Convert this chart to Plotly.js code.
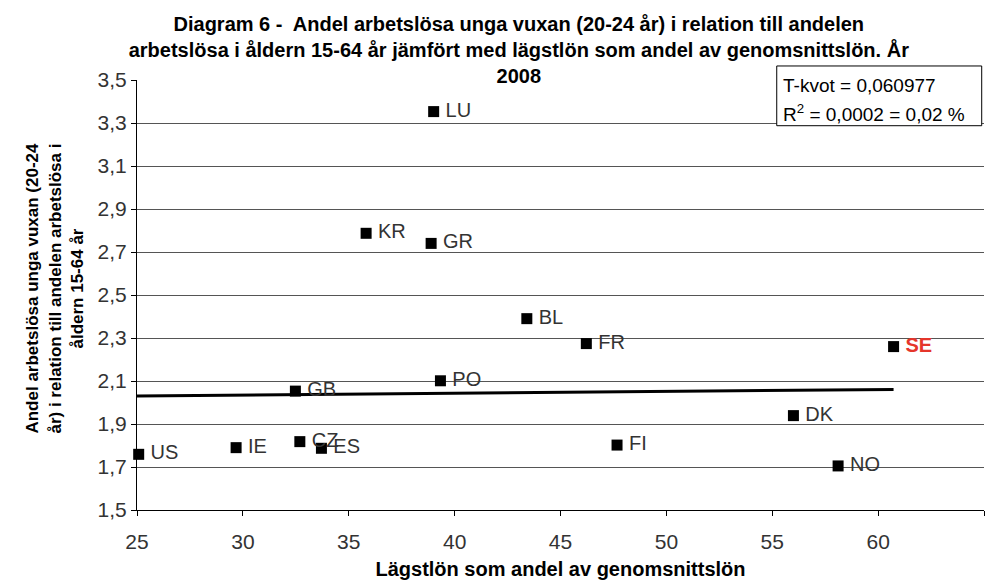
<!DOCTYPE html>
<html>
<head>
<meta charset="utf-8">
<script src="https://cdn.plot.ly/plotly-3.0.1.min.js"></script>
<style>html,body{margin:0;padding:0;background:#fff;}#chart{width:992px;height:580px;}</style>
</head>
<body>
<div id="chart"></div>
<script>
// Data
const countries = ['US','IE','CZ','ES','GB','PO','LU','KR','GR','BL','FR','DK','FI','NO'];
const minWageShare = [25.08, 29.68, 32.69, 33.71, 32.48, 39.33, 39.01, 35.82, 38.89, 43.41, 46.22, 56.0, 47.67, 58.11];
const youthRatio = [1.759, 1.790, 1.818, 1.787, 2.053, 2.101, 3.353, 2.787, 2.740, 2.390, 2.274, 1.939, 1.802, 1.705];
const seLabel = ['SE'];
const seX = [60.73];
const seY = [2.260];
const trendX = [25.0, 60.73];
const trendY = [2.030, 2.061];
const xTicks = [25, 30, 35, 40, 45, 50, 55, 60, 65];
const yTicks = [1.5, 1.7, 1.9, 2.1, 2.3, 2.5, 2.7, 2.9, 3.1, 3.3, 3.5];

const FONT = 'Liberation Sans, Arial, sans-serif';

const traces = [
  {
    x: trendX, y: trendY, type: 'scatter', mode: 'lines',
    line: {color: '#000', width: 3}, hoverinfo: 'skip'
  },
  {
    x: minWageShare, y: youthRatio, text: countries, type: 'scatter', mode: 'markers+text',
    texttemplate: '\u2009%{text}',
    textposition: 'middle right', cliponaxis: false,
    marker: {symbol: 'square', size: 11, color: '#000'},
    textfont: {family: FONT, size: 20, color: '#333'}
  },
  {
    x: seX, y: seY, text: seLabel, type: 'scatter', mode: 'markers+text',
    texttemplate: '\u2009%{text}',
    textposition: 'middle right', cliponaxis: false,
    marker: {symbol: 'square', size: 11, color: '#000'},
    textfont: {family: FONT, size: 20, color: '#e5352b', weight: 'bold'}
  }
];

const layout = {
  width: 992, height: 580,
  margin: {l: 137, r: 8, t: 80, b: 70},
  paper_bgcolor: '#fff', plot_bgcolor: '#fff',
  showlegend: false,
  separators: ', ',
  font: {family: FONT, color: '#333'},
  title: {
    text: 'Diagram 6 -  Andel arbetslösa unga vuxan (20-24 år) i relation till andelen<br>arbetslösa i åldern 15-64 år jämfört med lägstlön som andel av genomsnittslön. År<br>2008',
    font: {family: FONT, size: 20, color: '#000', weight: 'bold'},
    x: 0.523, xref: 'container', xanchor: 'center',
    y: 1 - 31/580, yref: 'container', yanchor: 'top'
  },
  xaxis: {
    range: [25, 65], tickvals: xTicks,
    showgrid: false, zeroline: false,
    showline: true, linecolor: '#000', linewidth: 1,
    ticks: 'outside', ticklen: 5, tickcolor: '#000',
    tickfont: {family: FONT, size: 21, color: '#333'},
    ticklabelstandoff: 8,
    title: {text: 'Lägstlön som andel av genomsnittslön', font: {family: FONT, size: 20, color: '#000', weight: 'bold'}, standoff: 10}
  },
  yaxis: {
    range: [1.5, 3.5], tickvals: yTicks, tickformat: '.1f',
    ticksuffix: '\u00a0\u00a0',
    showgrid: true, gridcolor: '#555', gridwidth: 1, zeroline: false,
    showline: true, linecolor: '#000', linewidth: 1,
    ticks: 'outside', ticklen: 5, tickcolor: '#000',
    tickfont: {family: FONT, size: 21, color: '#333'}
  },
  shapes: [
    {type: 'rect', xref: 'paper', yref: 'paper', x0: 0.7553, x1: 0.9973, y0: 0.8937, y1: 1.0326,
     fillcolor: '#fff', line: {color: '#000', width: 1}, layer: 'above'}
  ],
  annotations: [
    {xref: 'paper', yref: 'paper', x: (55 - 137) / 847, y: 0.515, xanchor: 'center', yanchor: 'middle',
     textangle: -90, showarrow: false,
     text: 'Andel arbetslösa unga vuxan (20-24<br>år) i relation till andelen arbetslösa i<br>åldern 15-64 år',
     font: {family: FONT, size: 17, color: '#000', weight: 'bold'}},
    {xref: 'paper', yref: 'paper', x: 0.760, y: 0.988, xanchor: 'left', yanchor: 'middle', showarrow: false,
     text: 'T-kvot = 0,060977', font: {family: FONT, size: 19, color: '#000'}},
    {xref: 'paper', yref: 'paper', x: 0.760, y: 0.923, xanchor: 'left', yanchor: 'middle', showarrow: false,
     text: 'R<sup>2</sup> = 0,0002 = 0,02 %', font: {family: FONT, size: 19, color: '#000'}}
  ]
};

Plotly.newPlot('chart', traces, layout, {displayModeBar: false, staticPlot: true});
</script>
</body>
</html>
